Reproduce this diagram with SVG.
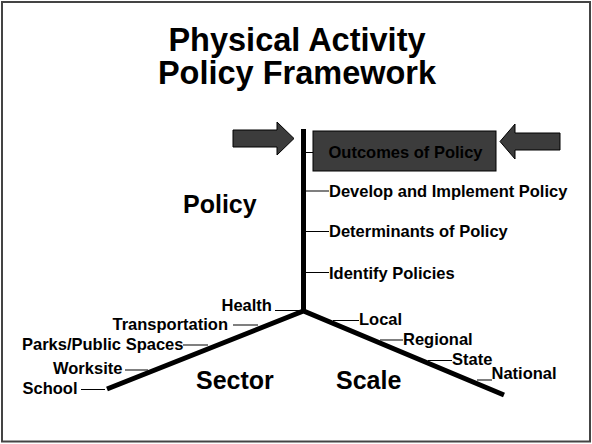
<svg xmlns="http://www.w3.org/2000/svg" width="592" height="444" viewBox="0 0 592 444">
<style>
text{font-family:"Liberation Sans",Arial,sans-serif;font-weight:bold;fill:#000}
.lbl{font-size:16.5px}
.big{font-size:25px}
.title{font-size:32.5px}
.tick{stroke:#000;stroke-width:1.2;fill:none}
.axis{stroke:#000;stroke-width:5;fill:none;stroke-linejoin:miter}
.dark{fill:#3c3c3c;stroke:#000;stroke-width:1}
</style>
<rect x="0" y="0" width="592" height="444" fill="#fff"/>
<rect x="2" y="2" width="588" height="439.5" fill="none" stroke="#444" stroke-width="2"/>
<g id="title">
<text class="title" x="297" y="51" text-anchor="middle">Physical Activity</text>
<text class="title" x="297" y="84" text-anchor="middle">Policy Framework</text>
</g>
<g id="connectors">
<path class="axis" d="M303.5,129 V312"/>
<path class="axis" d="M107,389 L303.5,311 L504,395"/>
<path class="tick" d="M305,152.5 H329 M305,191 H329 M305,231.5 H329 M305,272.5 H329"/>
<path class="tick" d="M275,310.5 H300 M233,325 H258 M183,345 H208 M125,370 H148 M81,389.5 H105"/>
<path class="tick" d="M333,320.5 H359 M380,340 H403 M428,360.5 H452 M477,380 H492"/>
</g>
<g id="arrow-left">
<polygon class="dark" points="233,130 277,130 277,122 294,138.5 277,155 277,147 233,147"/>
</g>
<g id="arrow-right">
<polygon class="dark" points="560,133 515,133 515,124 500,141.5 515,159 515,150 560,150"/>
</g>
<g id="outcomes">
<rect class="dark" x="313" y="131" width="183" height="40"/>
<text class="lbl" x="328.5" y="157.5">Outcomes of Policy</text>
</g>
<g id="develop"><text class="lbl" x="329" y="196.5">Develop and Implement Policy</text></g>
<g id="determinants"><text class="lbl" x="329" y="237">Determinants of Policy</text></g>
<g id="identify"><text class="lbl" x="329" y="278.5">Identify Policies</text></g>
<g id="policy"><text class="big" x="183" y="213">Policy</text></g>
<g id="sector"><text class="big" x="196" y="388.5">Sector</text></g>
<g id="scale"><text class="big" x="336" y="388.5">Scale</text></g>
<g id="health"><text class="lbl" x="221.5" y="311">Health</text></g>
<g id="transportation"><text class="lbl" x="112.5" y="329.5">Transportation</text></g>
<g id="parks"><text class="lbl" x="22" y="349.5">Parks/Public Spaces</text></g>
<g id="worksite"><text class="lbl" x="53" y="373.5">Worksite</text></g>
<g id="school"><text class="lbl" x="22.5" y="393.5">School</text></g>
<g id="local"><text class="lbl" x="359" y="324.5">Local</text></g>
<g id="regional"><text class="lbl" x="403" y="345">Regional</text></g>
<g id="state"><text class="lbl" x="452" y="365">State</text></g>
<g id="national"><text class="lbl" x="491.5" y="378.5">National</text></g>
</svg>
